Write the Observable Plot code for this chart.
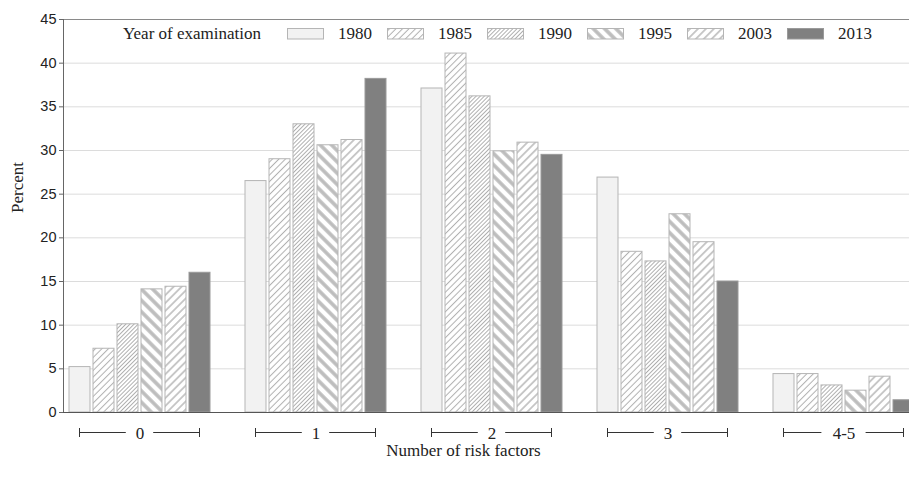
<!DOCTYPE html>
<html>
<head>
<meta charset="utf-8">
<script src="https://cdn.jsdelivr.net/npm/d3@7"></script>
<script src="https://cdn.jsdelivr.net/npm/@observablehq/plot@0.6"></script>
<style>
  html, body { margin: 0; padding: 0; background: #fff; overflow: hidden; }
  #wrap { position: relative; width: 909px; height: 487px; overflow: hidden; color: #222; }
  #wrap svg.layer { position: absolute; left: 0; top: 0; }
  #legend { position: absolute; left: 0; top: 0; width: 909px; height: 0; font-family: "Liberation Serif", "Times New Roman", serif; font-size: 17px; color: #222; }
  #legend .title { position: absolute; left: 123px; top: 22px; line-height: 23px; }
  #legend .items { position: absolute; left: 287px; top: 22px; display: flex; }
  #legend .item { width: 100px; display: flex; align-items: center; height: 23px; }
  #legend .item svg { margin-right: 14px; display: block; }
</style>
</head>
<body>
<svg width="0" height="0" style="position:absolute">
  <defs>
    <pattern id="p1985" width="4.6" height="4.6" patternUnits="userSpaceOnUse" patternTransform="rotate(45)">
      <rect width="4.6" height="4.6" fill="#fff"/>
      <line x1="2.3" y1="0" x2="2.3" y2="4.6" stroke="#b0b0b0" stroke-width="1"/>
    </pattern>
    <pattern id="p1990" width="2.9" height="2.9" patternUnits="userSpaceOnUse" patternTransform="rotate(45)">
      <rect width="2.9" height="2.9" fill="#fff"/>
      <line x1="1.45" y1="0" x2="1.45" y2="2.9" stroke="#a8a8a8" stroke-width="0.9"/>
    </pattern>
    <pattern id="p1995" width="8" height="8" patternUnits="userSpaceOnUse" patternTransform="rotate(-45)">
      <rect width="8" height="8" fill="#fff"/>
      <line x1="4" y1="0" x2="4" y2="8" stroke="#bdbdbd" stroke-width="3.6"/>
    </pattern>
    <pattern id="p2003" width="5.6" height="5.6" patternUnits="userSpaceOnUse" patternTransform="rotate(45)">
      <rect width="5.6" height="5.6" fill="#fff"/>
      <line x1="2.8" y1="0" x2="2.8" y2="5.6" stroke="#b4b4b4" stroke-width="1.4"/>
    </pattern>
  </defs>
</svg>
<div id="wrap">
  <div id="legend">
    <div class="title">Year of examination</div>
    <div class="items" id="items"></div>
  </div>
</div>
<script>
// ---- data ----
const groups = ["0", "1", "2", "3", "4-5"];
const years = ["1980", "1985", "1990", "1995", "2003", "2013"];
const v1980 = [5.2, 26.5, 37.1, 26.9, 4.4];
const v1985 = [7.3, 29.0, 41.1, 18.4, 4.4];
const v1990 = [10.1, 33.0, 36.2, 17.3, 3.1];
const v1995 = [14.1, 30.6, 29.9, 22.7, 2.5];
const v2003 = [14.4, 31.2, 30.9, 19.5, 4.1];
const v2013 = [16.0, 38.2, 29.5, 15.0, 1.4];
const yTicks = [0, 5, 10, 15, 20, 25, 30, 35, 40, 45];
const yLabel = "Percent";
const xLabel = "Number of risk factors";

const series = [v1980, v1985, v1990, v1995, v2003, v2013];
const table = [];
groups.forEach((g, gi) => years.forEach((y, yi) => table.push({group: g, year: y, value: series[yi][gi]})));

const fills = ["#f2f2f2", "url(#p1985)", "url(#p1990)", "url(#p1995)", "url(#p2003)", "#808080"];
const strokes = ["#b5b5b5", "#b5b5b5", "#b5b5b5", "#b5b5b5", "#b5b5b5", "#9a9a9a"];

const W = 920, H = 487, mt = 19, mb = 75, ml = 63, mr = 0;
const serif = "Liberation Serif, Times New Roman, serif";
const sans = "Liberation Sans, Arial, sans-serif";
const layerStyle = {background: "transparent", maxWidth: "none", overflow: "visible", color: "#222"};

// background: axis, grid, titles
const bg = Plot.plot({
  width: W, height: H, marginTop: mt, marginBottom: mb, marginLeft: ml, marginRight: mr,
  style: layerStyle,
  x: {domain: [0, 1], axis: null},
  y: {domain: [0, 45], axis: null},
  marks: [
    Plot.gridY(yTicks, {stroke: "#dcdcdc", strokeOpacity: 1}),
    Plot.ruleY([45], {stroke: "#8a8a8a"}),
    Plot.axisY({ticks: yTicks, tickSize: 4, tickPadding: 3, label: null, fontSize: 14.5, fontFamily: sans, stroke: "#666"}),
    Plot.ruleX([0], {stroke: "#666"}),
    Plot.ruleY([0], {stroke: "#555"}),
    Plot.text([yLabel], {text: d => d, frameAnchor: "left", rotate: -90, dx: -46, dy: -3, fontFamily: serif, fontSize: 17, fill: "#222"}),
    Plot.text([xLabel], {text: d => d, frameAnchor: "bottom", lineAnchor: "middle", dx: -28.5, dy: 38, fontFamily: serif, fontSize: 17, fill: "#222"})
  ]
});
bg.classList.add("layer");

// foreground: bars faceted by group
const fg = Plot.plot({
  width: W, height: H, marginTop: mt, marginBottom: mb, marginLeft: ml, marginRight: mr,
  style: layerStyle,
  fx: {domain: groups, paddingInner: 0.19, paddingOuter: 0.02, label: null},
  x: {domain: years, paddingInner: 0.14, paddingOuter: 0, axis: null},
  y: {domain: [0, 45], axis: null},
  color: {type: "ordinal", domain: years, range: fills, legend: false},
  marks: [
    Plot.barY(table, {fx: "group", x: "year", y: "value", fill: "year",
      stroke: d => strokes[years.indexOf(d.year)], strokeWidth: 1}),
    Plot.ruleY([0], {stroke: "#555"}),
    Plot.axisFx({anchor: "bottom", tickSize: 0, tickPadding: 14, fontSize: 17, fontFamily: serif, label: null, fill: "#222"})
  ]
});
fg.classList.add("layer");

const wrap = document.getElementById("wrap");
wrap.insertBefore(bg, wrap.firstChild);
wrap.insertBefore(fg, document.getElementById("legend"));

// brackets under each group, positioned with Plot's fx scale
const fxs = fg.scale("fx");
const bw = fxs.bandwidth;
const by = H - mb + 20;
const gSel = d3.select(fg).append("g").attr("stroke", "#333").attr("stroke-width", 1).attr("fill", "none");
groups.forEach(g => {
  const x0 = fxs.apply(g) + 11, x1 = fxs.apply(g) + bw - 11, c = fxs.apply(g) + bw / 2;
  const half = g.length * 4.2 + 9.5;
  gSel.append("line").attr("x1", x0).attr("x2", c - half).attr("y1", by + 0.5).attr("y2", by + 0.5);
  gSel.append("line").attr("x1", c + half).attr("x2", x1).attr("y1", by + 0.5).attr("y2", by + 0.5);
  gSel.append("line").attr("x1", x0 + 0.5).attr("x2", x0 + 0.5).attr("y1", by - 4).attr("y2", by + 5);
  gSel.append("line").attr("x1", x1 - 0.5).attr("x2", x1 - 0.5).attr("y1", by - 4).attr("y2", by + 5);
});

// legend
const items = d3.select("#items");
years.forEach((y, i) => {
  const it = items.append("div").attr("class", "item");
  const s = it.append("svg").attr("width", 37).attr("height", 12);
  s.append("rect").attr("x", 0.5).attr("y", 0.5).attr("width", 36).attr("height", 10.5)
    .attr("fill", fills[i]).attr("stroke", strokes[i]);
  it.append("span").text(y);
});
</script>
</body>
</html>
